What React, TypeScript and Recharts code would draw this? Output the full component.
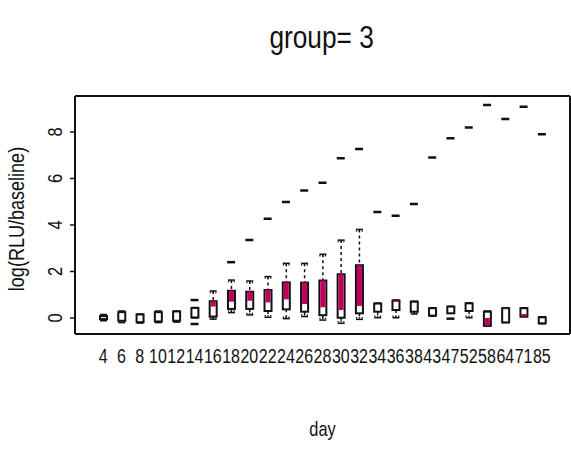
import { ComposedChart, Bar, Scatter, XAxis, YAxis } from "recharts";

const FONT = "'Liberation Sans', Arial, sans-serif";
const NARROW = 0.82; // R's Helvetica Narrow look
const C_INK = "#111111";
const C_FILL = "#c2005c";

const days = ["4", "6", "8", "10", "12", "14", "16", "18", "20", "22", "24", "26", "28", "30", "32", "34", "36", "38", "43", "47", "52", "58", "64", "71", "85"];
const whiskerLo = [-0.12, -0.2, -0.22, -0.2, -0.18, 0.0, -0.05, 0.23, 0.13, 0.03, -0.03, 0.06, -0.09, -0.23, -0.06, 0.01, 0.01, 0.17, 0.08, 0.2, 0.01, -0.35, -0.2, 0.05, -0.25];
const q1 = [-0.05, -0.12, -0.18, -0.15, -0.12, 0.02, 0.06, 0.39, 0.39, 0.3, 0.37, 0.27, 0.12, 0.01, 0.2, 0.27, 0.34, 0.27, 0.1, 0.2, 0.3, -0.33, -0.19, 0.06, -0.23];
const median = [0.02, 0.08, -0.05, 0.05, 0.1, 0.2, 0.49, 0.7, 0.74, 0.67, 0.8, 0.6, 0.46, 0.34, 0.52, 0.6, 0.7, 0.3, 0.12, 0.35, 0.6, 0.0, 0.38, 0.17, -0.1];
const mean = [0.02, 0.08, -0.05, 0.05, 0.1, 0.2, 0.72, 1.17, 1.13, 1.2, 1.53, 1.52, 1.61, 1.88, 2.27, 0.6, 0.75, 0.3, 0.12, 0.35, 0.6, -0.33, 0.42, 0.06, -0.1];
const q3 = [0.08, 0.25, 0.15, 0.25, 0.28, 0.43, 0.72, 1.17, 1.13, 1.2, 1.53, 1.52, 1.61, 1.88, 2.27, 0.62, 0.75, 0.7, 0.42, 0.49, 0.63, 0.27, 0.42, 0.42, 0.03];
const whiskerHi = [0.15, 0.3, 0.17, 0.3, 0.3, 0.45, 1.16, 1.63, 1.59, 1.78, 2.35, 2.35, 2.74, 3.35, 3.81, 0.64, 0.77, 0.72, 0.44, 0.5, 0.65, 0.3, 0.44, 0.44, 0.05];
const outlierHi = [null, null, null, null, null, 0.77, null, 2.4, 3.35, 4.27, 4.99, 5.48, 5.82, 6.87, 7.27, 4.56, 4.4, 4.9, 6.9, 7.73, 8.19, 9.16, 8.56, 9.09, 7.9];
const outlierLo = [null, null, null, null, null, -0.26, null, null, null, null, null, null, null, null, null, null, null, null, null, -0.03, null, null, null, null, null];
const yTicks = [0, 2, 4, 6, 8];

const data = days.map((day, i) => ({
  day,
  range: [whiskerLo[i], whiskerHi[i]],
  lo: whiskerLo[i],
  q1: q1[i],
  median: median[i],
  mean: mean[i],
  q3: q3[i],
  hi: whiskerHi[i],
  outHi: outlierHi[i],
  outLo: outlierLo[i],
}));

function BoxShape(props: any) {
  const { x, y, width, height, payload } = props;
  if (!payload) return <g />;
  const top = Math.min(y, y + height);
  const bot = Math.max(y, y + height);
  const { lo, hi } = payload;
  // linear scale: reuse the pixel ends the bar gives us
  const px = (v: number) => (hi === lo ? top : top + ((bot - top) * (hi - v)) / (hi - lo));
  const cx = x + width / 2;
  const half = width / 2;
  const yQ3 = px(payload.q3);
  const yQ1 = px(payload.q1);
  const yMed = px(payload.median);
  const yMean = px(payload.mean);
  return (
    <g>
      <line x1={cx} x2={cx} y1={top} y2={yQ3} stroke={C_INK} strokeWidth={1.5} strokeDasharray="3 3" />
      <line x1={cx} x2={cx} y1={yQ1} y2={bot} stroke={C_INK} strokeWidth={1.5} strokeDasharray="3 3" />
      <line x1={cx - half} x2={cx + half} y1={top} y2={top} stroke={C_INK} strokeWidth={1.5} />
      <line x1={cx - half} x2={cx + half} y1={top + 1.5} y2={top + 1.5} stroke={C_INK} strokeWidth={1.5} strokeDasharray="1.2 1.6" />
      <line x1={cx - half} x2={cx + half} y1={bot} y2={bot} stroke={C_INK} strokeWidth={1.5} />
      <line x1={cx - half} x2={cx + half} y1={bot - 1.5} y2={bot - 1.5} stroke={C_INK} strokeWidth={1.5} strokeDasharray="1.2 1.6" />
      <rect x={cx - half} y={yQ3} width={width} height={Math.max(yQ1 - yQ3, 1)} fill="#ffffff" stroke={C_INK} strokeWidth={2} />
      {Math.abs(yMean - yMed) > 0.5 && (
        <rect x={cx - half + 1} y={Math.min(yMed, yMean)} width={width - 2} height={Math.abs(yMean - yMed)} fill={C_FILL} />
      )}
    </g>
  );
}

function OutlierShape(props: any) {
  const { cx, cy, payload, field } = props;
  if (!payload || payload[field] == null || cy == null || isNaN(cy)) return <g />;
  return <line x1={cx - 4} x2={cx + 4} y1={cy} y2={cy} stroke={C_INK} strokeWidth={2.5} />;
}

function YTick(props: any) {
  const { x, y, payload } = props;
  const bx = x - 8;
  return (
    <text
      transform={`translate(${bx}, ${y}) rotate(-90) scale(${NARROW}, 1)`}
      textAnchor="middle"
      fontSize={20}
      fontFamily={FONT}
      fill={C_INK}
    >
      {payload.value}
    </text>
  );
}

function XTick(props: any) {
  const { x, y, payload } = props;
  return (
    <text transform={`translate(${x}, ${y + 21}) scale(${NARROW}, 1)`} textAnchor="middle" fontSize={19.5} fontFamily={FONT} fill={C_INK}>
      {payload.value}
    </text>
  );
}

export default function App() {
  return (
    <div style={{ position: "relative", width: 571, height: 455, background: "#fff" }}>
      <style>{"body{margin:0}"}</style>
      <div
        style={{
          position: "absolute",
          left: 0,
          width: 644,
          top: 17,
          textAlign: "center",
          fontFamily: FONT,
          fontSize: 32,
          color: C_INK,
          lineHeight: "40px",
        }}
      >
        <span style={{ display: "inline-block", transform: `scaleX(${NARROW})` }}>group= 3</span>
      </div>
      <ComposedChart width={571} height={455} data={data} margin={{ top: 95, right: 0, left: 45, bottom: 81 }}>
        <XAxis
          dataKey="day"
          type="category"
          interval={0}
          padding={{ left: 19, right: 19 }}
          height={40}
          tickLine={false}
          axisLine={{ stroke: C_INK, strokeWidth: 2 }}
          tick={<XTick />}
          label={{
            content: (p: any) => (
              <text
                transform={`translate(${p.viewBox.x + p.viewBox.width / 2}, 436) scale(${NARROW}, 1)`}
                textAnchor="middle"
                fontSize={20}
                fontFamily={FONT}
                fill={C_INK}
              >
                day
              </text>
            ),
          }}
        />
        <XAxis xAxisId="top" dataKey="day" orientation="top" height={1} padding={{ left: 19, right: 19 }} tick={false} tickLine={false} axisLine={{ stroke: C_INK, strokeWidth: 2 }} />
        <YAxis
          type="number"
          domain={[-0.69, 9.55]}
          ticks={yTicks}
          allowDataOverflow
          width={30}
          tickSize={5}
          tickMargin={0}
          tickLine={{ stroke: C_INK, strokeWidth: 1.5 }}
          axisLine={{ stroke: C_INK, strokeWidth: 2 }}
          tick={<YTick />}
          label={{
            content: (p: any) => {
              const cy = p.viewBox.y + p.viewBox.height / 2 + 4;
              return (
                <text transform={`translate(24, ${cy}) rotate(-90) scale(${NARROW}, 1)`} textAnchor="middle" fontSize={22} fontFamily={FONT} fill={C_INK}>
                  log(RLU/baseline)
                </text>
              );
            },
          }}
        />
        <YAxis yAxisId="right" orientation="right" width={1} tick={false} tickLine={false} axisLine={{ stroke: C_INK, strokeWidth: 2 }} />
        <Bar dataKey="range" barSize={7} shape={<BoxShape />} isAnimationActive={false} />
        <Scatter dataKey="outHi" shape={<OutlierShape field="outHi" />} isAnimationActive={false} />
        <Scatter dataKey="outLo" shape={<OutlierShape field="outLo" />} isAnimationActive={false} />
      </ComposedChart>
    </div>
  );
}
